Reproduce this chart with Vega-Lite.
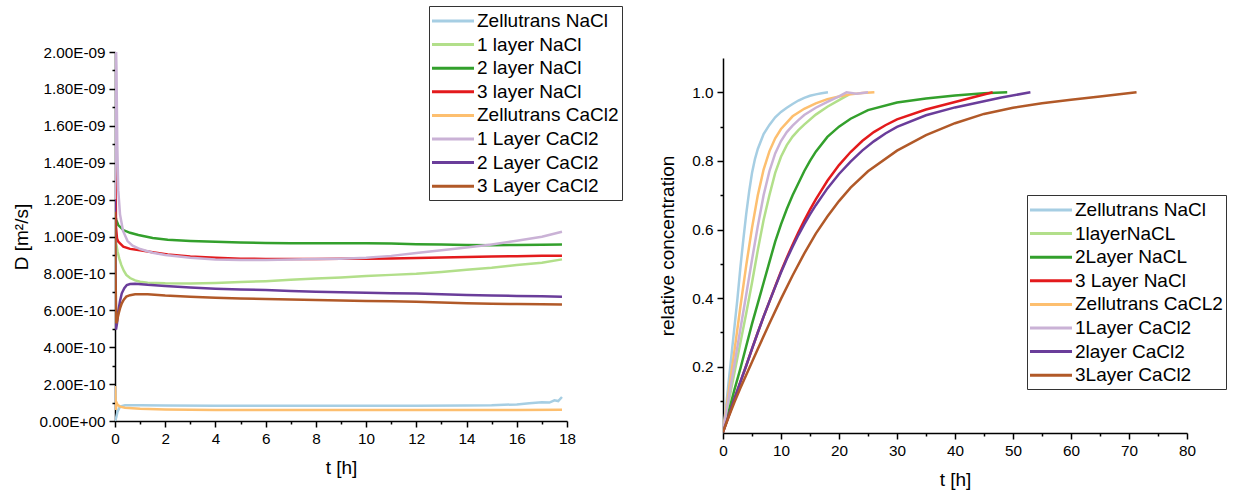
{
  "$schema": "https://vega.github.io/schema/vega-lite/v6.json",
  "autosize": {"type": "none"},
  "padding": {"left": 115, "top": 52, "right": 1119, "bottom": 441},
  "background": "white",
  "datasets": {
    "diff": [
      {"series": "Zellutrans NaCl", "t": 0, "D": 0},
      {"series": "Zellutrans NaCl", "t": 0.05, "D": 2e-11},
      {"series": "Zellutrans NaCl", "t": 0.1, "D": 5e-11},
      {"series": "Zellutrans NaCl", "t": 0.2, "D": 7.8e-11},
      {"series": "Zellutrans NaCl", "t": 0.4, "D": 8.5e-11},
      {"series": "Zellutrans NaCl", "t": 1, "D": 8.5e-11},
      {"series": "Zellutrans NaCl", "t": 2, "D": 8.4e-11},
      {"series": "Zellutrans NaCl", "t": 4, "D": 8.3e-11},
      {"series": "Zellutrans NaCl", "t": 6, "D": 8.3e-11},
      {"series": "Zellutrans NaCl", "t": 8, "D": 8.2e-11},
      {"series": "Zellutrans NaCl", "t": 10, "D": 8.2e-11},
      {"series": "Zellutrans NaCl", "t": 12, "D": 8.3e-11},
      {"series": "Zellutrans NaCl", "t": 14, "D": 8.4e-11},
      {"series": "Zellutrans NaCl", "t": 15, "D": 8.5e-11},
      {"series": "Zellutrans NaCl", "t": 15.5, "D": 8.8e-11},
      {"series": "Zellutrans NaCl", "t": 16, "D": 9.0e-11},
      {"series": "Zellutrans NaCl", "t": 16.5, "D": 9.6e-11},
      {"series": "Zellutrans NaCl", "t": 17, "D": 1.02e-10},
      {"series": "Zellutrans NaCl", "t": 17.3, "D": 1.0e-10},
      {"series": "Zellutrans NaCl", "t": 17.5, "D": 1.12e-10},
      {"series": "Zellutrans NaCl", "t": 17.65, "D": 1.08e-10},
      {"series": "Zellutrans NaCl", "t": 17.8, "D": 1.3e-10},

      {"series": "1 layer NaCl", "t": 0, "D": 1.01e-9},
      {"series": "1 layer NaCl", "t": 0.05, "D": 9.6e-10},
      {"series": "1 layer NaCl", "t": 0.1, "D": 9.2e-10},
      {"series": "1 layer NaCl", "t": 0.17, "D": 8.8e-10},
      {"series": "1 layer NaCl", "t": 0.25, "D": 8.46e-10},
      {"series": "1 layer NaCl", "t": 0.35, "D": 8.15e-10},
      {"series": "1 layer NaCl", "t": 0.45, "D": 7.92e-10},
      {"series": "1 layer NaCl", "t": 0.6, "D": 7.75e-10},
      {"series": "1 layer NaCl", "t": 0.8, "D": 7.62e-10},
      {"series": "1 layer NaCl", "t": 1, "D": 7.55e-10},
      {"series": "1 layer NaCl", "t": 1.3, "D": 7.5e-10},
      {"series": "1 layer NaCl", "t": 2, "D": 7.46e-10},
      {"series": "1 layer NaCl", "t": 3, "D": 7.45e-10},
      {"series": "1 layer NaCl", "t": 4, "D": 7.48e-10},
      {"series": "1 layer NaCl", "t": 5, "D": 7.53e-10},
      {"series": "1 layer NaCl", "t": 6, "D": 7.58e-10},
      {"series": "1 layer NaCl", "t": 7, "D": 7.65e-10},
      {"series": "1 layer NaCl", "t": 8, "D": 7.72e-10},
      {"series": "1 layer NaCl", "t": 9, "D": 7.78e-10},
      {"series": "1 layer NaCl", "t": 10, "D": 7.86e-10},
      {"series": "1 layer NaCl", "t": 11, "D": 7.92e-10},
      {"series": "1 layer NaCl", "t": 12, "D": 7.98e-10},
      {"series": "1 layer NaCl", "t": 13, "D": 8.08e-10},
      {"series": "1 layer NaCl", "t": 14, "D": 8.2e-10},
      {"series": "1 layer NaCl", "t": 15, "D": 8.3e-10},
      {"series": "1 layer NaCl", "t": 16, "D": 8.45e-10},
      {"series": "1 layer NaCl", "t": 17, "D": 8.58e-10},
      {"series": "1 layer NaCl", "t": 17.8, "D": 8.76e-10},

      {"series": "2 layer NaCl", "t": 0, "D": 1.12e-9},
      {"series": "2 layer NaCl", "t": 0.05, "D": 1.09e-9},
      {"series": "2 layer NaCl", "t": 0.13, "D": 1.062e-9},
      {"series": "2 layer NaCl", "t": 0.33, "D": 1.035e-9},
      {"series": "2 layer NaCl", "t": 0.6, "D": 1.02e-9},
      {"series": "2 layer NaCl", "t": 0.93, "D": 1.008e-9},
      {"series": "2 layer NaCl", "t": 1.5, "D": 9.92e-10},
      {"series": "2 layer NaCl", "t": 2.1, "D": 9.82e-10},
      {"series": "2 layer NaCl", "t": 3, "D": 9.76e-10},
      {"series": "2 layer NaCl", "t": 4, "D": 9.71e-10},
      {"series": "2 layer NaCl", "t": 5, "D": 9.67e-10},
      {"series": "2 layer NaCl", "t": 6, "D": 9.65e-10},
      {"series": "2 layer NaCl", "t": 7, "D": 9.64e-10},
      {"series": "2 layer NaCl", "t": 8, "D": 9.64e-10},
      {"series": "2 layer NaCl", "t": 9, "D": 9.64e-10},
      {"series": "2 layer NaCl", "t": 10, "D": 9.64e-10},
      {"series": "2 layer NaCl", "t": 11, "D": 9.62e-10},
      {"series": "2 layer NaCl", "t": 12, "D": 9.58e-10},
      {"series": "2 layer NaCl", "t": 13, "D": 9.57e-10},
      {"series": "2 layer NaCl", "t": 14, "D": 9.54e-10},
      {"series": "2 layer NaCl", "t": 15, "D": 9.53e-10},
      {"series": "2 layer NaCl", "t": 16, "D": 9.54e-10},
      {"series": "2 layer NaCl", "t": 17, "D": 9.55e-10},
      {"series": "2 layer NaCl", "t": 17.8, "D": 9.56e-10},

      {"series": "3 layer NaCl", "t": 0, "D": 2.0e-9},
      {"series": "3 layer NaCl", "t": 0.01, "D": 1.5e-9},
      {"series": "3 layer NaCl", "t": 0.04, "D": 1.05e-9},
      {"series": "3 layer NaCl", "t": 0.08, "D": 9.9e-10},
      {"series": "3 layer NaCl", "t": 0.13, "D": 9.72e-10},
      {"series": "3 layer NaCl", "t": 0.33, "D": 9.45e-10},
      {"series": "3 layer NaCl", "t": 0.6, "D": 9.33e-10},
      {"series": "3 layer NaCl", "t": 1, "D": 9.25e-10},
      {"series": "3 layer NaCl", "t": 1.5, "D": 9.15e-10},
      {"series": "3 layer NaCl", "t": 2.1, "D": 9.02e-10},
      {"series": "3 layer NaCl", "t": 3, "D": 8.92e-10},
      {"series": "3 layer NaCl", "t": 4, "D": 8.85e-10},
      {"series": "3 layer NaCl", "t": 5, "D": 8.8e-10},
      {"series": "3 layer NaCl", "t": 6, "D": 8.78e-10},
      {"series": "3 layer NaCl", "t": 7, "D": 8.78e-10},
      {"series": "3 layer NaCl", "t": 8, "D": 8.78e-10},
      {"series": "3 layer NaCl", "t": 9, "D": 8.79e-10},
      {"series": "3 layer NaCl", "t": 10, "D": 8.8e-10},
      {"series": "3 layer NaCl", "t": 11, "D": 8.81e-10},
      {"series": "3 layer NaCl", "t": 12, "D": 8.83e-10},
      {"series": "3 layer NaCl", "t": 13, "D": 8.86e-10},
      {"series": "3 layer NaCl", "t": 14, "D": 8.89e-10},
      {"series": "3 layer NaCl", "t": 15, "D": 8.91e-10},
      {"series": "3 layer NaCl", "t": 16, "D": 8.93e-10},
      {"series": "3 layer NaCl", "t": 17, "D": 8.95e-10},
      {"series": "3 layer NaCl", "t": 17.8, "D": 8.96e-10},

      {"series": "Zellutrans CaCl2", "t": 0, "D": 1.9e-10},
      {"series": "Zellutrans CaCl2", "t": 0.02, "D": 1.2e-10},
      {"series": "Zellutrans CaCl2", "t": 0.035, "D": 6e-11},
      {"series": "Zellutrans CaCl2", "t": 0.06, "D": 1.0e-10},
      {"series": "Zellutrans CaCl2", "t": 0.1, "D": 8.8e-11},
      {"series": "Zellutrans CaCl2", "t": 0.2, "D": 7.8e-11},
      {"series": "Zellutrans CaCl2", "t": 0.4, "D": 7.2e-11},
      {"series": "Zellutrans CaCl2", "t": 1, "D": 6.7e-11},
      {"series": "Zellutrans CaCl2", "t": 2, "D": 6.3e-11},
      {"series": "Zellutrans CaCl2", "t": 3, "D": 6.1e-11},
      {"series": "Zellutrans CaCl2", "t": 4, "D": 6.0e-11},
      {"series": "Zellutrans CaCl2", "t": 6, "D": 6.0e-11},
      {"series": "Zellutrans CaCl2", "t": 8, "D": 5.9e-11},
      {"series": "Zellutrans CaCl2", "t": 10, "D": 5.9e-11},
      {"series": "Zellutrans CaCl2", "t": 12, "D": 6.0e-11},
      {"series": "Zellutrans CaCl2", "t": 14, "D": 6.0e-11},
      {"series": "Zellutrans CaCl2", "t": 16, "D": 6.0e-11},
      {"series": "Zellutrans CaCl2", "t": 17.8, "D": 6.1e-11},

      {"series": "1 Layer CaCl2", "t": 0, "D": 1.2e-9},
      {"series": "1 Layer CaCl2", "t": 0.01, "D": 1.47e-9},
      {"series": "1 Layer CaCl2", "t": 0.03, "D": 2.1e-9},
      {"series": "1 Layer CaCl2", "t": 0.06, "D": 1.9e-9},
      {"series": "1 Layer CaCl2", "t": 0.09, "D": 1.5e-9},
      {"series": "1 Layer CaCl2", "t": 0.13, "D": 1.25e-9},
      {"series": "1 Layer CaCl2", "t": 0.2, "D": 1.12e-9},
      {"series": "1 Layer CaCl2", "t": 0.32, "D": 1.03e-9},
      {"series": "1 Layer CaCl2", "t": 0.5, "D": 9.75e-10},
      {"series": "1 Layer CaCl2", "t": 0.7, "D": 9.5e-10},
      {"series": "1 Layer CaCl2", "t": 1, "D": 9.32e-10},
      {"series": "1 Layer CaCl2", "t": 1.5, "D": 9.12e-10},
      {"series": "1 Layer CaCl2", "t": 2, "D": 9.0e-10},
      {"series": "1 Layer CaCl2", "t": 3, "D": 8.85e-10},
      {"series": "1 Layer CaCl2", "t": 4, "D": 8.76e-10},
      {"series": "1 Layer CaCl2", "t": 5, "D": 8.73e-10},
      {"series": "1 Layer CaCl2", "t": 6, "D": 8.73e-10},
      {"series": "1 Layer CaCl2", "t": 7, "D": 8.75e-10},
      {"series": "1 Layer CaCl2", "t": 8, "D": 8.78e-10},
      {"series": "1 Layer CaCl2", "t": 9, "D": 8.8e-10},
      {"series": "1 Layer CaCl2", "t": 10, "D": 8.85e-10},
      {"series": "1 Layer CaCl2", "t": 11, "D": 8.95e-10},
      {"series": "1 Layer CaCl2", "t": 12, "D": 9.1e-10},
      {"series": "1 Layer CaCl2", "t": 13, "D": 9.25e-10},
      {"series": "1 Layer CaCl2", "t": 14, "D": 9.4e-10},
      {"series": "1 Layer CaCl2", "t": 15, "D": 9.57e-10},
      {"series": "1 Layer CaCl2", "t": 16, "D": 9.77e-10},
      {"series": "1 Layer CaCl2", "t": 17, "D": 9.99e-10},
      {"series": "1 Layer CaCl2", "t": 17.8, "D": 1.026e-9},

      {"series": "2 Layer CaCl2", "t": 0, "D": 1.2e-9},
      {"series": "2 Layer CaCl2", "t": 0.02, "D": 8e-10},
      {"series": "2 Layer CaCl2", "t": 0.04, "D": 4.95e-10},
      {"series": "2 Layer CaCl2", "t": 0.08, "D": 5.3e-10},
      {"series": "2 Layer CaCl2", "t": 0.13, "D": 5.92e-10},
      {"series": "2 Layer CaCl2", "t": 0.2, "D": 6.5e-10},
      {"series": "2 Layer CaCl2", "t": 0.27, "D": 6.92e-10},
      {"series": "2 Layer CaCl2", "t": 0.37, "D": 7.2e-10},
      {"series": "2 Layer CaCl2", "t": 0.47, "D": 7.37e-10},
      {"series": "2 Layer CaCl2", "t": 0.6, "D": 7.42e-10},
      {"series": "2 Layer CaCl2", "t": 0.8, "D": 7.44e-10},
      {"series": "2 Layer CaCl2", "t": 1.3, "D": 7.38e-10},
      {"series": "2 Layer CaCl2", "t": 2, "D": 7.32e-10},
      {"series": "2 Layer CaCl2", "t": 3, "D": 7.24e-10},
      {"series": "2 Layer CaCl2", "t": 4, "D": 7.17e-10},
      {"series": "2 Layer CaCl2", "t": 5, "D": 7.13e-10},
      {"series": "2 Layer CaCl2", "t": 6, "D": 7.1e-10},
      {"series": "2 Layer CaCl2", "t": 7, "D": 7.05e-10},
      {"series": "2 Layer CaCl2", "t": 8, "D": 7.0e-10},
      {"series": "2 Layer CaCl2", "t": 9, "D": 6.98e-10},
      {"series": "2 Layer CaCl2", "t": 10, "D": 6.95e-10},
      {"series": "2 Layer CaCl2", "t": 11, "D": 6.93e-10},
      {"series": "2 Layer CaCl2", "t": 12, "D": 6.91e-10},
      {"series": "2 Layer CaCl2", "t": 13, "D": 6.87e-10},
      {"series": "2 Layer CaCl2", "t": 14, "D": 6.83e-10},
      {"series": "2 Layer CaCl2", "t": 15, "D": 6.8e-10},
      {"series": "2 Layer CaCl2", "t": 16, "D": 6.78e-10},
      {"series": "2 Layer CaCl2", "t": 17, "D": 6.76e-10},
      {"series": "2 Layer CaCl2", "t": 17.8, "D": 6.74e-10},

      {"series": "3 Layer CaCl2", "t": 0, "D": 1.134e-9},
      {"series": "3 Layer CaCl2", "t": 0.02, "D": 8e-10},
      {"series": "3 Layer CaCl2", "t": 0.05, "D": 5.3e-10},
      {"series": "3 Layer CaCl2", "t": 0.08, "D": 5.4e-10},
      {"series": "3 Layer CaCl2", "t": 0.13, "D": 5.75e-10},
      {"series": "3 Layer CaCl2", "t": 0.2, "D": 6.1e-10},
      {"series": "3 Layer CaCl2", "t": 0.27, "D": 6.38e-10},
      {"series": "3 Layer CaCl2", "t": 0.35, "D": 6.58e-10},
      {"series": "3 Layer CaCl2", "t": 0.45, "D": 6.74e-10},
      {"series": "3 Layer CaCl2", "t": 0.6, "D": 6.82e-10},
      {"series": "3 Layer CaCl2", "t": 0.8, "D": 6.87e-10},
      {"series": "3 Layer CaCl2", "t": 1.3, "D": 6.87e-10},
      {"series": "3 Layer CaCl2", "t": 2, "D": 6.8e-10},
      {"series": "3 Layer CaCl2", "t": 3, "D": 6.74e-10},
      {"series": "3 Layer CaCl2", "t": 4, "D": 6.68e-10},
      {"series": "3 Layer CaCl2", "t": 5, "D": 6.64e-10},
      {"series": "3 Layer CaCl2", "t": 6, "D": 6.61e-10},
      {"series": "3 Layer CaCl2", "t": 7, "D": 6.58e-10},
      {"series": "3 Layer CaCl2", "t": 8, "D": 6.56e-10},
      {"series": "3 Layer CaCl2", "t": 9, "D": 6.53e-10},
      {"series": "3 Layer CaCl2", "t": 10, "D": 6.5e-10},
      {"series": "3 Layer CaCl2", "t": 11, "D": 6.49e-10},
      {"series": "3 Layer CaCl2", "t": 12, "D": 6.46e-10},
      {"series": "3 Layer CaCl2", "t": 13, "D": 6.42e-10},
      {"series": "3 Layer CaCl2", "t": 14, "D": 6.38e-10},
      {"series": "3 Layer CaCl2", "t": 15, "D": 6.36e-10},
      {"series": "3 Layer CaCl2", "t": 16, "D": 6.34e-10},
      {"series": "3 Layer CaCl2", "t": 17, "D": 6.33e-10},
      {"series": "3 Layer CaCl2", "t": 17.8, "D": 6.32e-10}
    ],
    "conc": [
      {"sample": "Zellutrans NaCl", "t": 0, "c": 0.01},
      {"sample": "Zellutrans NaCl", "t": 0.5, "c": 0.08},
      {"sample": "Zellutrans NaCl", "t": 1, "c": 0.16},
      {"sample": "Zellutrans NaCl", "t": 1.5, "c": 0.24},
      {"sample": "Zellutrans NaCl", "t": 2, "c": 0.32},
      {"sample": "Zellutrans NaCl", "t": 2.5, "c": 0.4},
      {"sample": "Zellutrans NaCl", "t": 3, "c": 0.49},
      {"sample": "Zellutrans NaCl", "t": 3.5, "c": 0.57},
      {"sample": "Zellutrans NaCl", "t": 4, "c": 0.645},
      {"sample": "Zellutrans NaCl", "t": 4.5, "c": 0.71},
      {"sample": "Zellutrans NaCl", "t": 5, "c": 0.765},
      {"sample": "Zellutrans NaCl", "t": 5.5, "c": 0.805},
      {"sample": "Zellutrans NaCl", "t": 6, "c": 0.835},
      {"sample": "Zellutrans NaCl", "t": 7, "c": 0.878},
      {"sample": "Zellutrans NaCl", "t": 8, "c": 0.905},
      {"sample": "Zellutrans NaCl", "t": 9, "c": 0.927},
      {"sample": "Zellutrans NaCl", "t": 10, "c": 0.943},
      {"sample": "Zellutrans NaCl", "t": 11, "c": 0.955},
      {"sample": "Zellutrans NaCl", "t": 12, "c": 0.966},
      {"sample": "Zellutrans NaCl", "t": 13, "c": 0.976},
      {"sample": "Zellutrans NaCl", "t": 14, "c": 0.984},
      {"sample": "Zellutrans NaCl", "t": 15, "c": 0.99},
      {"sample": "Zellutrans NaCl", "t": 16, "c": 0.994},
      {"sample": "Zellutrans NaCl", "t": 17, "c": 0.997},
      {"sample": "Zellutrans NaCl", "t": 18.1, "c": 1.0},

      {"sample": "1layerNaCL", "t": 0, "c": 0.01},
      {"sample": "1layerNaCL", "t": 1, "c": 0.1},
      {"sample": "1layerNaCL", "t": 2, "c": 0.185},
      {"sample": "1layerNaCL", "t": 3, "c": 0.27},
      {"sample": "1layerNaCL", "t": 4, "c": 0.355},
      {"sample": "1layerNaCL", "t": 5, "c": 0.445},
      {"sample": "1layerNaCL", "t": 6, "c": 0.54},
      {"sample": "1layerNaCL", "t": 7, "c": 0.628},
      {"sample": "1layerNaCL", "t": 8, "c": 0.7},
      {"sample": "1layerNaCL", "t": 9, "c": 0.765},
      {"sample": "1layerNaCL", "t": 10, "c": 0.812},
      {"sample": "1layerNaCL", "t": 11, "c": 0.846},
      {"sample": "1layerNaCL", "t": 12, "c": 0.871},
      {"sample": "1layerNaCL", "t": 13, "c": 0.89},
      {"sample": "1layerNaCL", "t": 14, "c": 0.906},
      {"sample": "1layerNaCL", "t": 16, "c": 0.935},
      {"sample": "1layerNaCL", "t": 18, "c": 0.958},
      {"sample": "1layerNaCL", "t": 20, "c": 0.977},
      {"sample": "1layerNaCL", "t": 21.7, "c": 0.993},

      {"sample": "2Layer NaCL", "t": 0, "c": 0.01},
      {"sample": "2Layer NaCL", "t": 1, "c": 0.07},
      {"sample": "2Layer NaCL", "t": 2, "c": 0.135},
      {"sample": "2Layer NaCL", "t": 3, "c": 0.195},
      {"sample": "2Layer NaCL", "t": 4, "c": 0.26},
      {"sample": "2Layer NaCL", "t": 5, "c": 0.325},
      {"sample": "2Layer NaCL", "t": 6, "c": 0.385},
      {"sample": "2Layer NaCL", "t": 7, "c": 0.445},
      {"sample": "2Layer NaCL", "t": 8, "c": 0.505},
      {"sample": "2Layer NaCL", "t": 9, "c": 0.565},
      {"sample": "2Layer NaCL", "t": 10, "c": 0.615},
      {"sample": "2Layer NaCL", "t": 11, "c": 0.66},
      {"sample": "2Layer NaCL", "t": 12, "c": 0.7},
      {"sample": "2Layer NaCL", "t": 13, "c": 0.735},
      {"sample": "2Layer NaCL", "t": 14, "c": 0.77},
      {"sample": "2Layer NaCL", "t": 15, "c": 0.8},
      {"sample": "2Layer NaCL", "t": 16, "c": 0.827},
      {"sample": "2Layer NaCL", "t": 18, "c": 0.87},
      {"sample": "2Layer NaCL", "t": 20, "c": 0.9},
      {"sample": "2Layer NaCL", "t": 22, "c": 0.923},
      {"sample": "2Layer NaCL", "t": 25, "c": 0.948},
      {"sample": "2Layer NaCL", "t": 30, "c": 0.97},
      {"sample": "2Layer NaCL", "t": 35, "c": 0.982},
      {"sample": "2Layer NaCL", "t": 40, "c": 0.991},
      {"sample": "2Layer NaCL", "t": 45, "c": 0.997},
      {"sample": "2Layer NaCL", "t": 49, "c": 1.0},

      {"sample": "3 Layer NaCl", "t": 0, "c": 0.01},
      {"sample": "3 Layer NaCl", "t": 1, "c": 0.058},
      {"sample": "3 Layer NaCl", "t": 2, "c": 0.108},
      {"sample": "3 Layer NaCl", "t": 3, "c": 0.156},
      {"sample": "3 Layer NaCl", "t": 4, "c": 0.203},
      {"sample": "3 Layer NaCl", "t": 5, "c": 0.252},
      {"sample": "3 Layer NaCl", "t": 6, "c": 0.3},
      {"sample": "3 Layer NaCl", "t": 7, "c": 0.346},
      {"sample": "3 Layer NaCl", "t": 8, "c": 0.39},
      {"sample": "3 Layer NaCl", "t": 9, "c": 0.434},
      {"sample": "3 Layer NaCl", "t": 10, "c": 0.478},
      {"sample": "3 Layer NaCl", "t": 11, "c": 0.518},
      {"sample": "3 Layer NaCl", "t": 12, "c": 0.556},
      {"sample": "3 Layer NaCl", "t": 13, "c": 0.592},
      {"sample": "3 Layer NaCl", "t": 14, "c": 0.626},
      {"sample": "3 Layer NaCl", "t": 15, "c": 0.658},
      {"sample": "3 Layer NaCl", "t": 16, "c": 0.688},
      {"sample": "3 Layer NaCl", "t": 18, "c": 0.742},
      {"sample": "3 Layer NaCl", "t": 20, "c": 0.788},
      {"sample": "3 Layer NaCl", "t": 22, "c": 0.826},
      {"sample": "3 Layer NaCl", "t": 24, "c": 0.858},
      {"sample": "3 Layer NaCl", "t": 26, "c": 0.884},
      {"sample": "3 Layer NaCl", "t": 28, "c": 0.904},
      {"sample": "3 Layer NaCl", "t": 30, "c": 0.921},
      {"sample": "3 Layer NaCl", "t": 35, "c": 0.95},
      {"sample": "3 Layer NaCl", "t": 40, "c": 0.972},
      {"sample": "3 Layer NaCl", "t": 43, "c": 0.985},
      {"sample": "3 Layer NaCl", "t": 46.5, "c": 1.0},

      {"sample": "Zellutrans CaCL2", "t": 0, "c": 0.01},
      {"sample": "Zellutrans CaCL2", "t": 1, "c": 0.13},
      {"sample": "Zellutrans CaCL2", "t": 2, "c": 0.25},
      {"sample": "Zellutrans CaCL2", "t": 3, "c": 0.375},
      {"sample": "Zellutrans CaCL2", "t": 4, "c": 0.495},
      {"sample": "Zellutrans CaCL2", "t": 5, "c": 0.605},
      {"sample": "Zellutrans CaCL2", "t": 6, "c": 0.7},
      {"sample": "Zellutrans CaCL2", "t": 7, "c": 0.775},
      {"sample": "Zellutrans CaCL2", "t": 8, "c": 0.828},
      {"sample": "Zellutrans CaCL2", "t": 9, "c": 0.866},
      {"sample": "Zellutrans CaCL2", "t": 10, "c": 0.893},
      {"sample": "Zellutrans CaCL2", "t": 12, "c": 0.93},
      {"sample": "Zellutrans CaCL2", "t": 14, "c": 0.952},
      {"sample": "Zellutrans CaCL2", "t": 16, "c": 0.968},
      {"sample": "Zellutrans CaCL2", "t": 18, "c": 0.98},
      {"sample": "Zellutrans CaCL2", "t": 20, "c": 0.988},
      {"sample": "Zellutrans CaCL2", "t": 22, "c": 0.994},
      {"sample": "Zellutrans CaCL2", "t": 24, "c": 0.998},
      {"sample": "Zellutrans CaCL2", "t": 26.1, "c": 1.0},

      {"sample": "1Layer CaCl2", "t": 0, "c": 0.01},
      {"sample": "1Layer CaCl2", "t": 1, "c": 0.11},
      {"sample": "1Layer CaCl2", "t": 2, "c": 0.21},
      {"sample": "1Layer CaCl2", "t": 3, "c": 0.31},
      {"sample": "1Layer CaCl2", "t": 4, "c": 0.41},
      {"sample": "1Layer CaCl2", "t": 5, "c": 0.512},
      {"sample": "1Layer CaCl2", "t": 6, "c": 0.61},
      {"sample": "1Layer CaCl2", "t": 7, "c": 0.7},
      {"sample": "1Layer CaCl2", "t": 8, "c": 0.77},
      {"sample": "1Layer CaCl2", "t": 9, "c": 0.822},
      {"sample": "1Layer CaCl2", "t": 10, "c": 0.858},
      {"sample": "1Layer CaCl2", "t": 11, "c": 0.884},
      {"sample": "1Layer CaCl2", "t": 12, "c": 0.903},
      {"sample": "1Layer CaCl2", "t": 13, "c": 0.919},
      {"sample": "1Layer CaCl2", "t": 14, "c": 0.934},
      {"sample": "1Layer CaCl2", "t": 16, "c": 0.955},
      {"sample": "1Layer CaCl2", "t": 18, "c": 0.972},
      {"sample": "1Layer CaCl2", "t": 20, "c": 0.988},
      {"sample": "1Layer CaCl2", "t": 21.3, "c": 1.0},
      {"sample": "1Layer CaCl2", "t": 23, "c": 0.996},
      {"sample": "1Layer CaCl2", "t": 25, "c": 1.0},

      {"sample": "2layer CaCl2", "t": 0, "c": 0.01},
      {"sample": "2layer CaCl2", "t": 1, "c": 0.058},
      {"sample": "2layer CaCl2", "t": 2, "c": 0.108},
      {"sample": "2layer CaCl2", "t": 3, "c": 0.156},
      {"sample": "2layer CaCl2", "t": 4, "c": 0.203},
      {"sample": "2layer CaCl2", "t": 5, "c": 0.252},
      {"sample": "2layer CaCl2", "t": 6, "c": 0.3},
      {"sample": "2layer CaCl2", "t": 7, "c": 0.346},
      {"sample": "2layer CaCl2", "t": 8, "c": 0.39},
      {"sample": "2layer CaCl2", "t": 9, "c": 0.433},
      {"sample": "2layer CaCl2", "t": 10, "c": 0.475},
      {"sample": "2layer CaCl2", "t": 11, "c": 0.514},
      {"sample": "2layer CaCl2", "t": 12, "c": 0.55},
      {"sample": "2layer CaCl2", "t": 13, "c": 0.584},
      {"sample": "2layer CaCl2", "t": 14, "c": 0.615},
      {"sample": "2layer CaCl2", "t": 15, "c": 0.644},
      {"sample": "2layer CaCl2", "t": 16, "c": 0.671},
      {"sample": "2layer CaCl2", "t": 18, "c": 0.72},
      {"sample": "2layer CaCl2", "t": 20, "c": 0.762},
      {"sample": "2layer CaCl2", "t": 22, "c": 0.798},
      {"sample": "2layer CaCl2", "t": 24, "c": 0.83},
      {"sample": "2layer CaCl2", "t": 26, "c": 0.857},
      {"sample": "2layer CaCl2", "t": 28, "c": 0.88},
      {"sample": "2layer CaCl2", "t": 30, "c": 0.899},
      {"sample": "2layer CaCl2", "t": 35, "c": 0.933},
      {"sample": "2layer CaCl2", "t": 40, "c": 0.956},
      {"sample": "2layer CaCl2", "t": 45, "c": 0.974},
      {"sample": "2layer CaCl2", "t": 48, "c": 0.985},
      {"sample": "2layer CaCl2", "t": 53, "c": 1.0},

      {"sample": "3Layer CaCl2", "t": 0, "c": 0.01},
      {"sample": "3Layer CaCl2", "t": 1, "c": 0.055},
      {"sample": "3Layer CaCl2", "t": 2, "c": 0.098},
      {"sample": "3Layer CaCl2", "t": 3, "c": 0.138},
      {"sample": "3Layer CaCl2", "t": 4, "c": 0.176},
      {"sample": "3Layer CaCl2", "t": 5, "c": 0.214},
      {"sample": "3Layer CaCl2", "t": 6, "c": 0.252},
      {"sample": "3Layer CaCl2", "t": 8, "c": 0.326},
      {"sample": "3Layer CaCl2", "t": 10, "c": 0.398},
      {"sample": "3Layer CaCl2", "t": 12, "c": 0.466},
      {"sample": "3Layer CaCl2", "t": 14, "c": 0.53},
      {"sample": "3Layer CaCl2", "t": 16, "c": 0.588},
      {"sample": "3Layer CaCl2", "t": 18, "c": 0.638},
      {"sample": "3Layer CaCl2", "t": 20, "c": 0.683},
      {"sample": "3Layer CaCl2", "t": 22, "c": 0.722},
      {"sample": "3Layer CaCl2", "t": 25, "c": 0.77},
      {"sample": "3Layer CaCl2", "t": 30, "c": 0.83},
      {"sample": "3Layer CaCl2", "t": 35, "c": 0.875},
      {"sample": "3Layer CaCl2", "t": 40, "c": 0.91},
      {"sample": "3Layer CaCl2", "t": 45, "c": 0.937},
      {"sample": "3Layer CaCl2", "t": 50, "c": 0.955},
      {"sample": "3Layer CaCl2", "t": 55, "c": 0.968},
      {"sample": "3Layer CaCl2", "t": 60, "c": 0.978},
      {"sample": "3Layer CaCl2", "t": 65, "c": 0.988},
      {"sample": "3Layer CaCl2", "t": 71.3, "c": 1.0}
    ]
  },
  "spacing": 156,
  "bounds": "flush",
  "hconcat": [
    {
      "width": 452,
      "height": 369,
      "data": {"name": "diff"},
      "layer": [
        {
          "mark": {"type": "line", "strokeWidth": 2.5, "clip": true},
          "encoding": {
            "x": {"field": "t", "type": "quantitative",
              "scale": {"domain": [0, 18], "nice": false, "zero": false},
              "axis": {"orient": "bottom", "title": "t [h]", "values": [0, 2, 4, 6, 8, 10, 12, 14, 16, 18], "labelFlush": false, "titlePadding": 12}},
            "y": {"field": "D", "type": "quantitative",
              "scale": {"domain": [0, 2e-9], "nice": false},
              "axis": {"orient": "left", "title": "D [m²/s]", "titlePadding": 8,
                "values": [0, 2e-10, 4e-10, 6e-10, 8e-10, 1e-9, 1.2e-9, 1.4e-9, 1.6e-9, 1.8e-9, 2e-9],
                "labelFlush": false,
                "labelExpr": "datum.value == 0 ? '0.00E+00' : format(datum.value / pow(10, floor(log(datum.value) / LN10 + 1e-6)), '.2f') + (floor(log(datum.value) / LN10 + 1e-6) > -10 ? 'E-0' : 'E-') + toString(-floor(log(datum.value) / LN10 + 1e-6))"}},
            "color": {"field": "series", "type": "nominal",
              "scale": {
                "domain": ["Zellutrans NaCl", "1 layer NaCl", "2 layer NaCl", "3 layer NaCl", "Zellutrans CaCl2", "1 Layer CaCl2", "2 Layer CaCl2", "3 Layer CaCl2"],
                "range": ["#a6cee3", "#b2df8a", "#33a02c", "#e31a1c", "#fdbf6f", "#cab2d6", "#6a3d9a", "#b15928"]},
              "legend": {"orient": "none", "legendX": 314, "legendY": -46, "title": null}}
          }
        },
        {
          "mark": {"type": "point", "opacity": 0},
          "encoding": {
            "x": {"field": "t", "type": "quantitative",
              "axis": {"orient": "bottom", "title": null, "labels": false, "domain": false, "tickSize": 3, "values": [1, 3, 5, 7, 9, 11, 13, 15, 17]}},
            "y": {"field": "D", "type": "quantitative",
              "axis": {"orient": "left", "title": null, "labels": false, "domain": false, "tickSize": 3,
                "values": [1e-10, 3e-10, 5e-10, 7e-10, 9e-10, 1.1e-9, 1.3e-9, 1.5e-9, 1.7e-9, 1.9e-9]}}
          }
        }
      ],
      "resolve": {"axis": {"x": "independent", "y": "independent"}}
    },
    {
      "width": 464,
      "height": 381,
      "data": {"name": "conc"},
      "layer": [
        {
          "mark": {"type": "line", "strokeWidth": 2.5, "clip": true},
          "encoding": {
            "x": {"field": "t", "type": "quantitative",
              "scale": {"domain": [0, 80], "nice": false, "zero": false},
              "axis": {"orient": "bottom", "title": "t [h]", "values": [0, 10, 20, 30, 40, 50, 60, 70, 80], "labelFlush": false, "titlePadding": 12}},
            "y": {"field": "c", "type": "quantitative",
              "scale": {"domain": [0.007, 1.1], "range": [381, 6], "nice": false, "zero": false},
              "axis": {"orient": "left", "title": "relative concentration", "titlePadding": 14,
                "values": [0.2, 0.4, 0.6, 0.8, 1.0], "format": ".1f", "labelFlush": false}},
            "color": {"field": "sample", "type": "nominal",
              "scale": {
                "domain": ["Zellutrans NaCl", "1layerNaCL", "2Layer NaCL", "3 Layer NaCl", "Zellutrans CaCL2", "1Layer CaCl2", "2layer CaCl2", "3Layer CaCl2"],
                "range": ["#a6cee3", "#b2df8a", "#33a02c", "#e31a1c", "#fdbf6f", "#cab2d6", "#6a3d9a", "#b15928"]},
              "legend": {"orient": "none", "legendX": 304, "legendY": 143, "title": null}}
          }
        },
        {
          "mark": {"type": "point", "opacity": 0},
          "encoding": {
            "x": {"field": "t", "type": "quantitative",
              "axis": {"orient": "bottom", "title": null, "labels": false, "domain": false, "tickSize": 3, "values": [5, 15, 25, 35, 45, 55, 65, 75]}},
            "y": {"field": "c", "type": "quantitative",
              "axis": {"orient": "left", "title": null, "labels": false, "domain": false, "tickSize": 3, "values": [0.1, 0.3, 0.5, 0.7, 0.9]}}
          }
        }
      ],
      "resolve": {"axis": {"x": "independent", "y": "independent"}}
    }
  ],
  "resolve": {
    "scale": {"x": "independent", "y": "independent", "color": "independent"},
    "legend": {"color": "independent"}
  },
  "config": {
    "view": {"stroke": null},
    "font": "Liberation Sans",
    "axis": {
      "labelFont": "Liberation Sans", "labelFontSize": 15.3, "labelColor": "black",
      "titleFont": "Liberation Sans", "titleFontSize": 19, "titleFontWeight": "normal", "titleColor": "black",
      "domainColor": "black", "domainWidth": 1.5, "tickColor": "black", "tickWidth": 1.5, "tickSize": 6,
      "labelPadding": 4, "grid": false
    },
    "legend": {
      "symbolType": "M-2,0H2", "symbolSize": 441, "symbolStrokeWidth": 3, "symbolOffset": 9,
      "labelFont": "Liberation Sans", "labelFontSize": 19, "labelColor": "black", "labelOffset": 12, "labelLimit": 0,
      "rowPadding": 1.6, "padding": 3, "strokeColor": "#333", "fillColor": "white"
    }
  }
}
